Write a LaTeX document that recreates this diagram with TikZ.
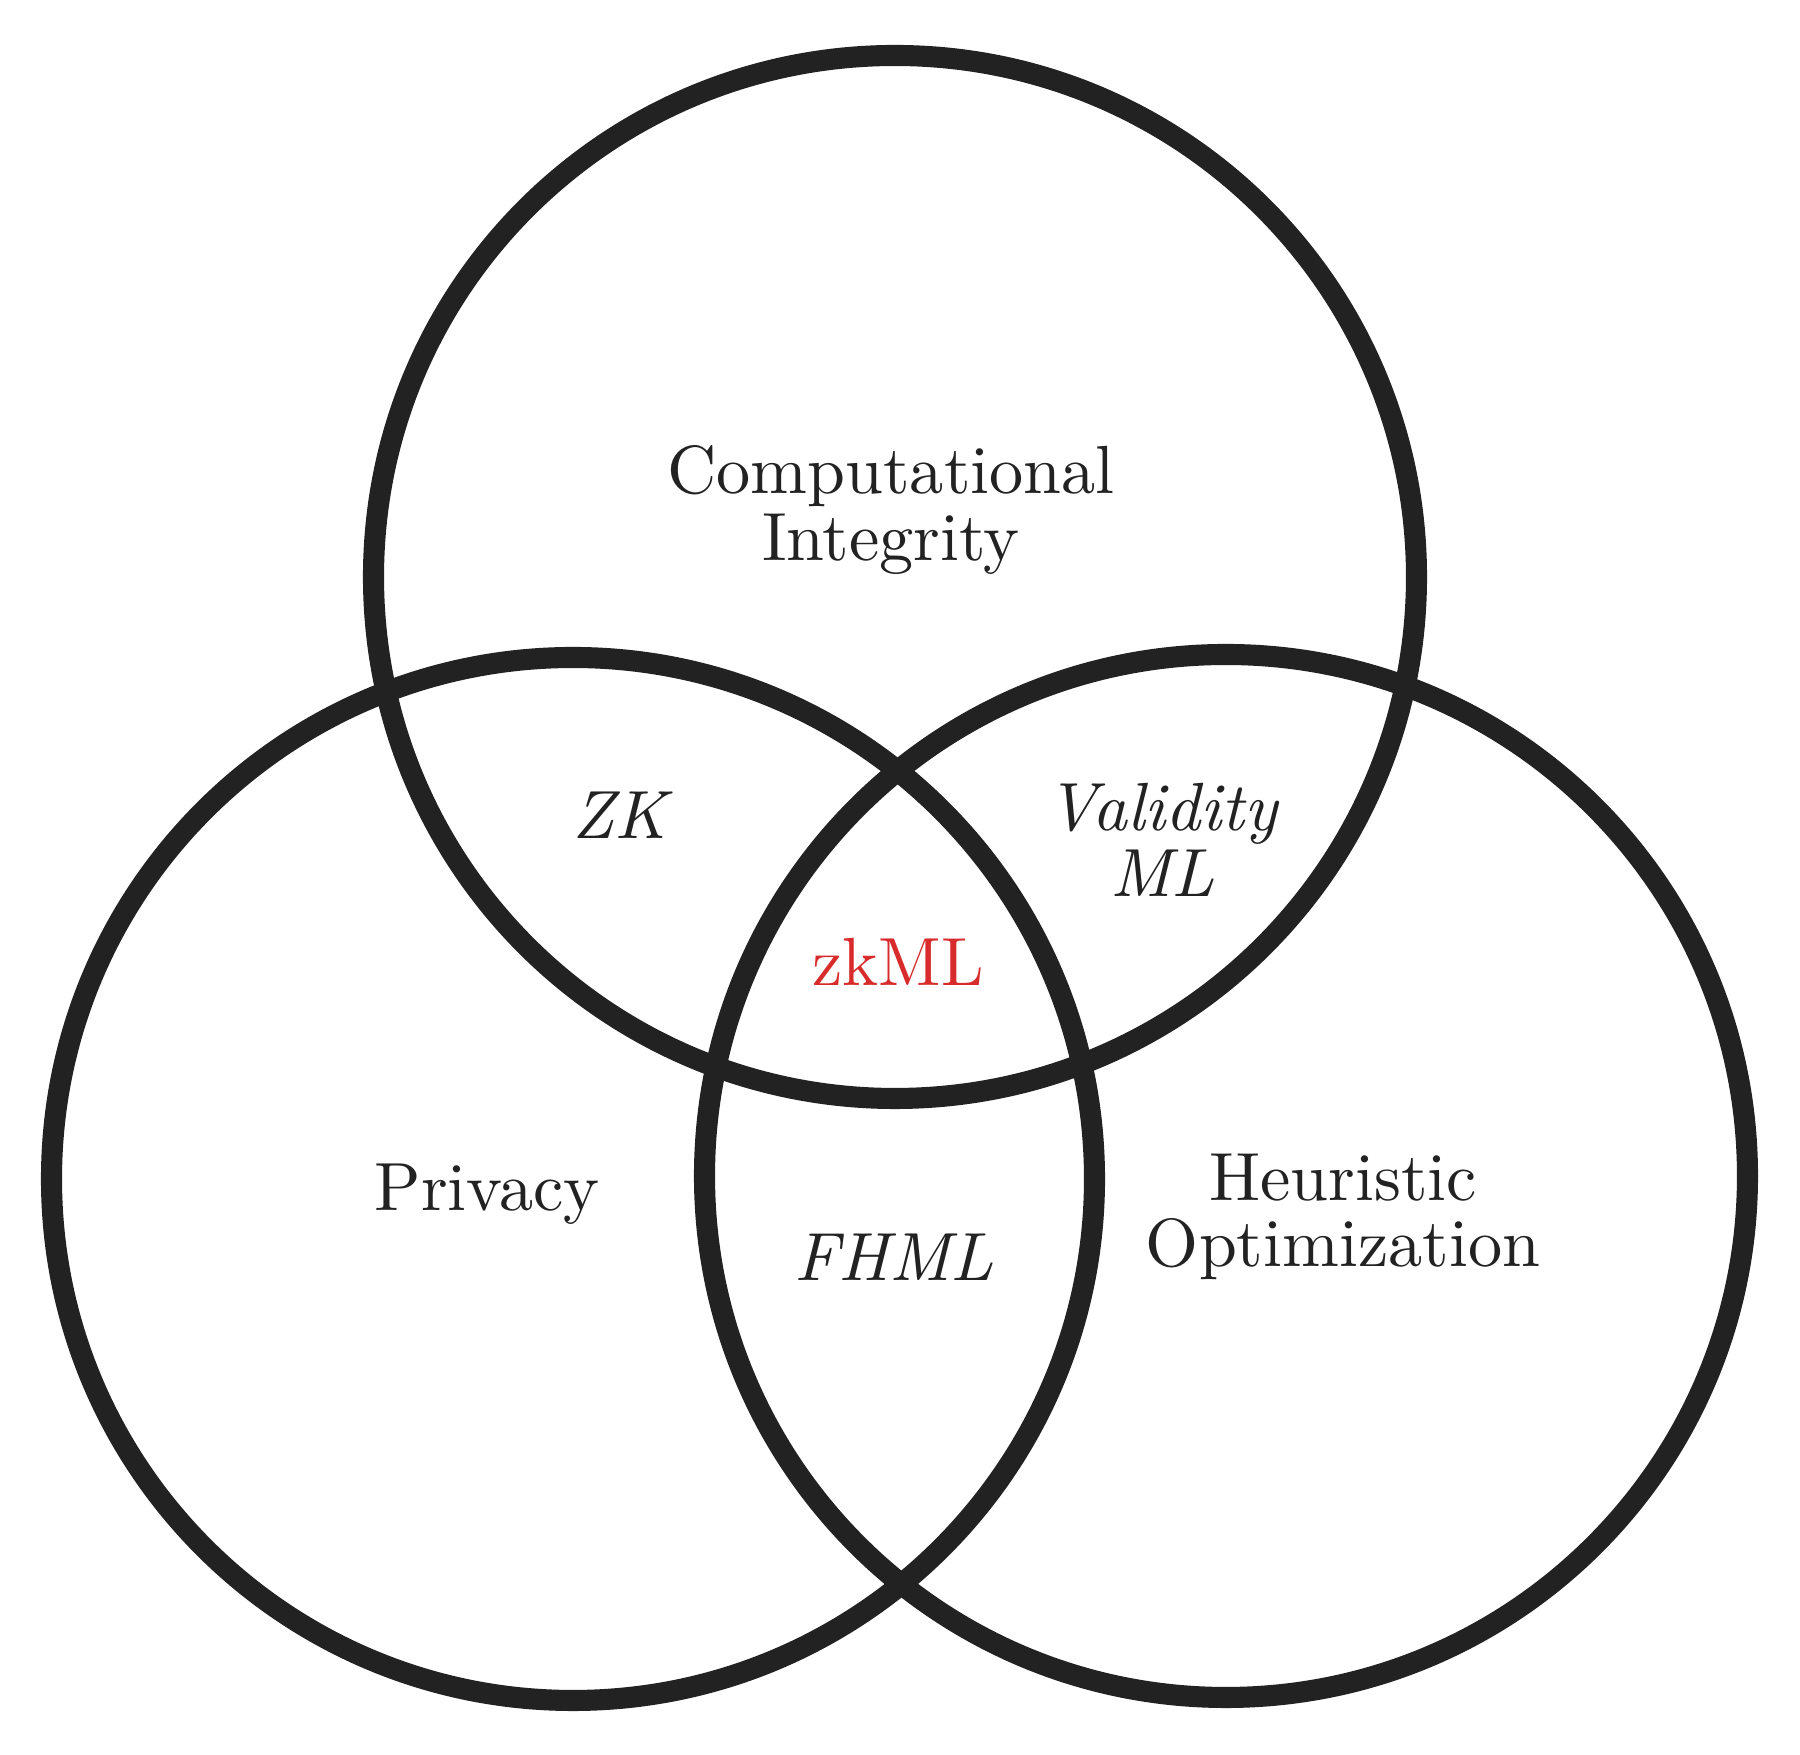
\documentclass[tikz,border=0pt]{standalone}
\usepackage{fontspec}
\setmainfont{lmroman10}[Extension=.otf, UprightFont=*-regular, ItalicFont=*-italic, BoldFont=*-bold]
\usepackage{tikz}

\definecolor{vennline}{RGB}{34,34,34}
\definecolor{vennred}{RGB}{216,44,44}

\tikzset{
  set/.style={circle, draw=vennline, line width=6pt, inner sep=0pt, minimum size=10.43cm},
  setlabel/.style={text=vennline, align=center, font=\fontsize{19.4pt}{18.8pt}\selectfont},
  overlap/.style={setlabel, font=\fontsize{19.4pt}{18.8pt}\selectfont\itshape}
}

\begin{document}
\begin{tikzpicture}
  \useasboundingbox (0,0) rectangle (18,17.55);
  \fill[white] (0,0) rectangle (18,17.55);
  \node[set] (integrity) at (8.95,11.78) {};
  \node[set] (privacy) at (5.73,5.76) {};
  \node[set] (heuristic) at (12.26,5.79) {};
  \begin{scope}
    \node[setlabel] (ci) at (8.91,12.45) {Computational\\Integrity};
    \node[setlabel] (pr) at (4.87,5.61) {Privacy};
    \node[setlabel] (ho) at (13.43,5.38) {Heuristic\\Optimization};
    \node[overlap] (zk) at (6.20,9.40) {ZK};
    \node[overlap] (vml) at (11.62,9.15) {Validity\\ML};
    \node[overlap] (fhml) at (8.94,4.98) {FHML};
    \node[setlabel, text=vennred] (zkml) at (8.98,7.93) {zkML};
  \end{scope}
\end{tikzpicture}
\end{document}
